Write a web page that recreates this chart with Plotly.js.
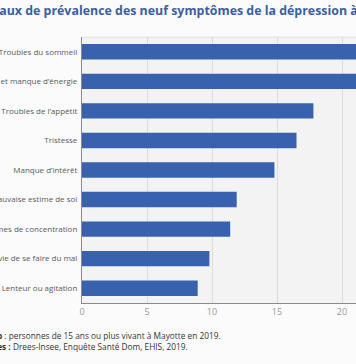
<!DOCTYPE html>
<html>
<head>
<meta charset="utf-8">
<script src="https://cdn.plot.ly/plotly-3.0.1.min.js"></script>
<style>
html, body { margin:0; padding:0; overflow:hidden; width:356px; height:364px; background:#fbfbfb; }
#chart { position:absolute; left:-120px; top:0; width:560px; height:364px; }
</style>
</head>
<body>
<div id="chart"></div>
<script>
const categories = [
  "Troubles du sommeil",
  "Fatigue et manque d’énergie",
  "Troubles de l’appétit",
  "Tristesse",
  "Manque d’intérêt",
  "Mauvaise estime de soi",
  "Problèmes de concentration",
  "Envie de se faire du mal",
  "Lenteur ou agitation"
];
const values = [24.6, 22.4, 17.8, 16.5, 14.8, 11.9, 11.4, 9.8, 8.9];
const tickValues = [0, 5, 10, 15, 20, 25];
const titleText = "Taux de prévalence des neuf symptômes de la dépression à Mayotte";
const noteChamp = "<b>Champ</b> : personnes de 15 ans ou plus vivant à Mayotte en 2019.";
const noteSources = "<b>Sources :</b> Drees-Insee, Enquête Santé Dom, EHIS, 2019.";

// geometry: plot area left at page x 81.7, 13 px per unit
const offsetLeft = 120;
const plotLeftPage = 81.7;
const plotTop = 37;
const plotW = 325;
const plotH = 266;
const marginL = plotLeftPage + offsetLeft;
const pageToPaperX = px => (px - plotLeftPage) / plotW;
const pageToPaperY = py => (plotTop + plotH - py) / plotH;

const data = [{
  type: 'bar',
  orientation: 'h',
  y: categories,
  x: values,
  marker: { color: '#3862ad' },
  hoverinfo: 'x+y'
}];

const layout = {
  width: 560, height: 364,
  margin: { l: marginL, r: 560 - marginL - plotW, t: plotTop, b: 364 - plotTop - plotH },
  paper_bgcolor: '#fbfbfb',
  plot_bgcolor: '#f3f3f3',
  font: { family: 'Open Sans, sans-serif', color: '#555' },
  bargap: 0.48,
  showlegend: false,
  xaxis: {
    range: [0, 25],
    tickvals: tickValues,
    showgrid: true, gridcolor: '#dcdcdc', gridwidth: 1,
    zeroline: false,
    showline: true, linecolor: '#8a8a8a', linewidth: 1,
    ticks: '', ticklen: 0,
    tickfont: { size: 9, color: '#999' },
    fixedrange: true
  },
  yaxis: {
    autorange: 'reversed',
    showline: true, linecolor: '#8a8a8a', linewidth: 1,
    showgrid: false, zeroline: false,
    ticks: '', ticksuffix: ' ',
    tickfont: { size: 8, color: '#5a5a5a' },
    fixedrange: true
  },
  shapes: [{
    type: 'line', xref: 'paper', yref: 'paper', x0: 0, x1: 1, y0: 1, y1: 1,
    line: { color: '#e2e2e2', width: 1 }
  }],
  annotations: [
    { text: '<b>' + titleText + '</b>', xref: 'paper', yref: 'paper',
      x: pageToPaperX(-10.5), xanchor: 'left',
      y: pageToPaperY(10), yanchor: 'middle', showarrow: false,
      font: { family: 'Open Sans, sans-serif', size: 12.4, color: '#3c5f9e' } },
    { text: noteChamp, xref: 'paper', yref: 'paper', x: pageToPaperX(223), xanchor: 'right',
      y: pageToPaperY(335), yanchor: 'middle', showarrow: false,
      font: { size: 8.3, color: '#333' } },
    { text: noteSources, xref: 'paper', yref: 'paper', x: pageToPaperX(190), xanchor: 'right',
      y: pageToPaperY(346.7), yanchor: 'middle', showarrow: false,
      font: { size: 8.3, color: '#333' } }
  ]
};

Plotly.newPlot('chart', data, layout, { displayModeBar: false, staticPlot: true });
</script>
</body>
</html>
